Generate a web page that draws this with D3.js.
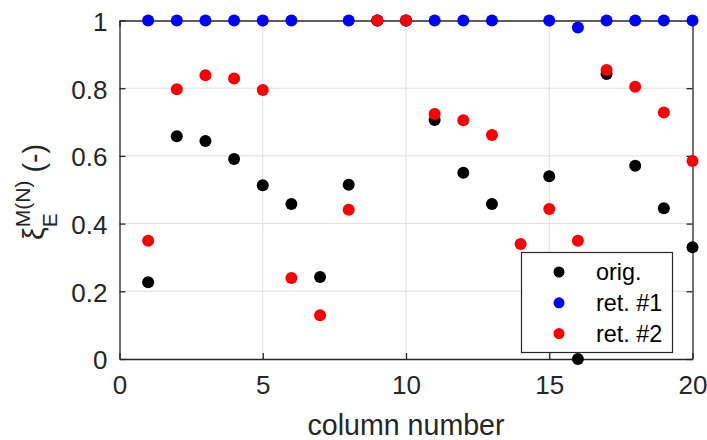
<!DOCTYPE html>
<html>
<head>
<meta charset="utf-8">
<script src="https://cdn.jsdelivr.net/npm/d3@7"></script>
<style>
  body { margin: 0; background: #fff; }
  text { font-family: "Liberation Sans", Arial, sans-serif; fill: #262626; }
</style>
</head>
<body>
<div id="canvas"></div>
<script>
// column numbers and the three series (null = hidden / not drawn)
const columns = [1, 2, 3, 4, 5, 6, 7, 8, 9, 10, 11, 12, 13, 14, 15, 16, 17, 18, 19, 20];
const orig = [0.227, 0.658, 0.644, 0.591, 0.513, 0.458, 0.242, 0.515, 1, 1,
              0.706, 0.550, 0.458, null, 0.540, 0.000, 0.842, 0.571, 0.445, 0.330];
const ret1 = [1, 1, 1, 1, 1, 1, null, 1, 1, 1,
              1, 1, 1, null, 1, 0.979, 1, 1, 1, 1];
const ret2 = [0.349, 0.797, 0.838, 0.829, 0.795, 0.239, 0.129, 0.441, 1, 1,
              0.724, 0.705, 0.662, 0.340, 0.443, 0.349, 0.854, 0.804, 0.728, 0.585];
const seriesNames = ["orig.", "ret. #1", "ret. #2"];
const seriesColors = ["#000000", "#0000ff", "#ff0000"];
const xTicks = [0, 5, 10, 15, 20];
const yTicks = [0, 0.2, 0.4, 0.6, 0.8, 1];

const width = 707;
const height = 440;
const margin = { top: 20.5, left: 119.5, bottom: 81, right: 14.5 };
const iwidth = width - margin.left - margin.right;
const iheight = height - margin.top - margin.bottom;

const svg = d3.select("#canvas").append("svg")
    .attr("width", width)
    .attr("height", height);

const g = svg.append("g").attr("transform", `translate(${margin.left},${margin.top})`);

const x = d3.scaleLinear().domain([0, 20]).range([0, iwidth]);
const y = d3.scaleLinear().domain([0, 1]).range([iheight, 0]);

// grid
g.append("g").selectAll("line").data(xTicks.slice(1, -1)).enter().append("line")
    .attr("x1", d => x(d)).attr("x2", d => x(d))
    .attr("y1", 0).attr("y2", iheight)
    .attr("stroke", "#dfdfdf").attr("stroke-width", 1);
g.append("g").selectAll("line").data(yTicks.slice(1, -1)).enter().append("line")
    .attr("x1", 0).attr("x2", iwidth)
    .attr("y1", d => y(d)).attr("y2", d => y(d))
    .attr("stroke", "#dfdfdf").attr("stroke-width", 1);

// axes (box on, ticks inside)
const axisColor = "#262626";
const xAxis = g.append("g")
    .attr("transform", `translate(0,${iheight})`)
    .call(d3.axisBottom(x).tickValues(xTicks).tickSize(-6).tickSizeOuter(0).tickPadding(17).tickFormat(d3.format("d")));
const xTop = g.append("g")
    .call(d3.axisTop(x).tickValues(xTicks).tickSize(-6).tickSizeOuter(0).tickFormat(""));
const yAxis = g.append("g")
    .call(d3.axisLeft(y).tickValues(yTicks).tickSize(-6).tickSizeOuter(0).tickPadding(12).tickFormat(d => d3.format("")(d)));
const yRight = g.append("g")
    .attr("transform", `translate(${iwidth},0)`)
    .call(d3.axisRight(y).tickValues(yTicks).tickSize(-6).tickSizeOuter(0).tickFormat(""));

[xAxis, xTop, yAxis, yRight].forEach(a => {
    a.select(".domain").attr("stroke", axisColor).attr("stroke-width", 1.3);
    a.selectAll(".tick line").attr("stroke", axisColor).attr("stroke-width", 1.3);
    a.selectAll(".tick text").attr("fill", axisColor).attr("font-size", 26)
        .attr("font-family", "Liberation Sans, Arial, sans-serif");
});
xAxis.selectAll(".tick text").attr("dy", "0.71em");
yAxis.selectAll(".tick text").attr("dy", "0.38em");

// points
const allSeries = [orig, ret1, ret2];
allSeries.forEach((vals, i) => {
    const pts = columns.map((c, j) => ({ c: c, v: vals[j] })).filter(p => p.v !== null);
    g.append("g").selectAll("circle").data(pts).enter().append("circle")
        .attr("cx", d => x(d.c))
        .attr("cy", d => y(d.v))
        .attr("r", 6)
        .style("fill", seriesColors[i]);
});

// x label
svg.append("text")
    .attr("x", margin.left + iwidth / 2)
    .attr("y", 435)
    .attr("text-anchor", "middle")
    .attr("font-size", 28.6)
    .text("column number");

// y label: xi_E^{M(N)} (-)
const ylab = svg.append("g").attr("transform", "translate(44,192) rotate(-90)");
const inner = ylab.append("g");
const t1 = inner.append("text").attr("font-size", 28.6).text("ξ");
const w1 = t1.node().getComputedTextLength();
const sub = inner.append("text").attr("x", w1).attr("y", 13).attr("font-size", 21).text("E");
const sup = inner.append("text").attr("x", w1).attr("y", -14).attr("font-size", 21).text("M(N)");
const w2 = Math.max(sub.node().getComputedTextLength(), sup.node().getComputedTextLength());
const t3 = inner.append("text").attr("x", w1 + w2 + 8).attr("font-size", 28.6).text("(-)");
const total = w1 + w2 + 8 + t3.node().getComputedTextLength();
inner.attr("transform", `translate(${-total / 2},0)`);

// legend
const legend = svg.append("g").attr("transform", "translate(521.5,252.5)");
legend.append("rect")
    .attr("width", 151).attr("height", 100)
    .attr("fill", "#fff").attr("stroke", axisColor).attr("stroke-width", 1.2);
const rows = legend.selectAll("g.row").data(seriesNames).enter().append("g")
    .attr("class", "row")
    .attr("transform", (d, i) => `translate(0,${19.5 + i * 30.8})`);
rows.append("circle").attr("cx", 37.5).attr("r", 5.5).style("fill", (d, i) => seriesColors[i]);
rows.append("text").attr("x", 74.5).attr("dy", "0.36em").attr("font-size", 23.4).style("fill", "#000").text(d => d);
</script>
</body>
</html>
